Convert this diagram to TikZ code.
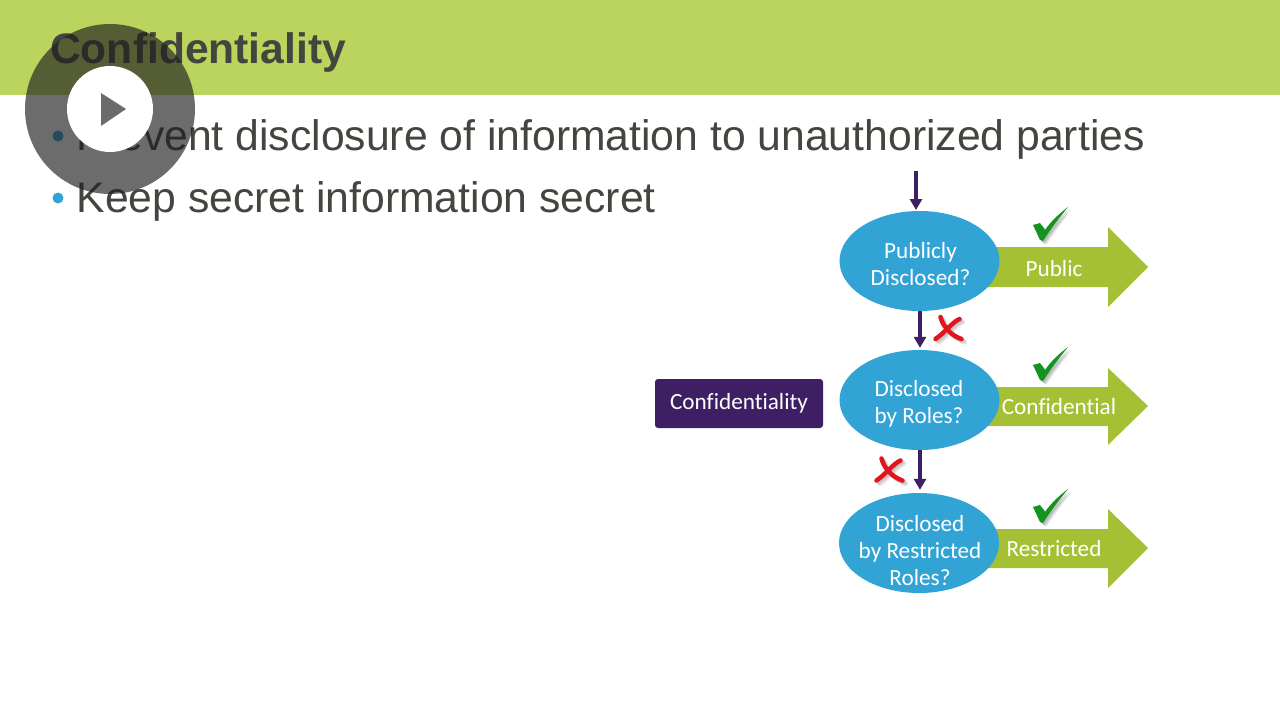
\documentclass[tikz,border=0pt]{standalone}
\usepackage{fontspec}
\setmainfont{Liberation Sans}
\newfontfamily\labelfont[Ligatures=NoCommon]{Carlito}
\usetikzlibrary{shapes.geometric,arrows.meta}
\definecolor{band}{HTML}{BAD45E}
\definecolor{ink}{HTML}{45453F}
\definecolor{bluefill}{HTML}{31A3D5}
\definecolor{arrowgreen}{HTML}{A5C034}
\definecolor{plum}{HTML}{3F1F63}
\definecolor{tickgreen}{HTML}{12941F}
\definecolor{xred}{HTML}{E2141C}
\definecolor{veil}{HTML}{1E1E1E}
\newcommand{\tickshape}{(-17,2) -- (-10,0) -- (-5,7) .. controls (1,-2) and (10,-10) .. (18,-16) .. controls (9,-5) and (0,7) .. (-7,18) -- (-10,17) -- cycle}
\newcommand{\crossstrokes}{(-8,-13) .. controls (-6,-5) and (1,5) .. (13,9) (11,-11) .. controls (4,-8) and (-4,3) .. (-13,9)}
\tikzset{
  x=1pt,y=-1pt,
  title/.style={anchor=base west,inner sep=0,font=\fontsize{42.6}{42.6}\selectfont\bfseries,text=ink},
  bodytext/.style={anchor=base west,inner sep=0,font=\fontsize{42.7}{42.7}\selectfont,text=ink},
  bulletdot/.style={circle,fill=bluefill,minimum size=11pt,inner sep=0},
  question/.style={ellipse,fill=bluefill,minimum width=160pt,minimum height=100pt,inner sep=0},
  questiontext/.style={inner sep=0,align=center,text=white,font=\labelfont\fontsize{23.2}{27}\selectfont},
  fatarrow/.style={fill=arrowgreen},
  outcome/.style={inner sep=0,text=white,font=\labelfont\fontsize{23.2}{26}\selectfont},
  flow/.style={plum,line width=4pt,-{Triangle[width=12pt,length=11pt]}},
  rolebox/.style={fill=plum,rounded corners=3pt,minimum width=168pt,minimum height=49pt,inner sep=0,text=white,font=\labelfont\fontsize{23.2}{26}\selectfont},
  tickmark/.pic={
    \foreach \d in {1.5,2.5,3.5}{\fill[black,opacity=.1,shift={(\d,\d)}] \tickshape;}
    \fill[tickgreen] \tickshape;
  },
  crossmark/.pic={
    \foreach \d in {1.5,2.5,3.5}{\draw[black,opacity=.08,line width=4.5pt,line cap=round,shift={(\d,\d)}] \crossstrokes;}
    \draw[xred,line width=4.5pt,line cap=round] \crossstrokes;
  },
}
\begin{document}
\begin{tikzpicture}
\useasboundingbox (0,0) rectangle (1280,720);
\fill[white] (0,0) rectangle (1280,720);
\fill[band] (0,0) rectangle (1280,95);
\node[title] (heading) at (50,63) {Confidentiality};
\node[bulletdot] (dot1) at (58,136) {};
\node[bulletdot] (dot2) at (58,198) {};
\node[bodytext] (line1) at (76.5,150) {Prevent disclosure of information to unauthorized parties};
\node[bodytext] (line2) at (76.5,212) {Keep secret information secret};
% outcome arrows
\fill[fatarrow] (980,247) -- (1108,247) -- (1108,227) -- (1148,267) -- (1108,307) -- (1108,287) -- (980,287) -- cycle;
\fill[fatarrow] (980,387) -- (1108,387) -- (1108,368) -- (1148,406) -- (1108,445) -- (1108,426) -- (980,426) -- cycle;
\fill[fatarrow] (980,529) -- (1108,529) -- (1108,509) -- (1148,548) -- (1108,588) -- (1108,568) -- (980,568) -- cycle;
\node[outcome] (public) at (1054,269) {Public};
\node[outcome] (confidentialout) at (1059,407) {Confidential};
\node[outcome] (restricted) at (1054,549) {Restricted};
% questions
\node[question] (q1) at (919.5,261) {};
\node[question] (q2) at (919.5,400) {};
\node[question] (q3) at (919,543) {};
\node[questiontext] (q1text) at (920.5,264) {Publicly\\Disclosed?};
\node[questiontext] (q2text) at (919,403.5) {Disclosed\\by Roles?};
\node[questiontext] (q3text) at (920,550.5) {Disclosed\\by Restricted\\Roles?};
\node[rolebox] (role) at (739,403.5) {\raisebox{-1pt}{Confidentiality}};
\coordinate (start) at (916,171);
\coordinate (q1in) at (916,210);
\draw[flow] (start) -- (q1in);
\draw[flow] (q1.south -| 920,0) -- ([yshift=2pt]q2.north -| 920,0);
\draw[flow] (q2.south -| 920,0) -- ([yshift=3pt]q3.north -| 920,0);
\pic at (1050,223) {tickmark};
\pic at (1050,363) {tickmark};
\pic at (1050,505) {tickmark};
\pic at (948.5,330) {crossmark};
\pic at (889.5,471.5) {crossmark};
% play overlay
\fill[veil,opacity=.65] (110,109) circle[radius=85];
\fill[white] (110,109) circle[radius=43];
\fill[black!58] (101,93) -- (126,109) -- (101,126) -- cycle;
\end{tikzpicture}
\end{document}
